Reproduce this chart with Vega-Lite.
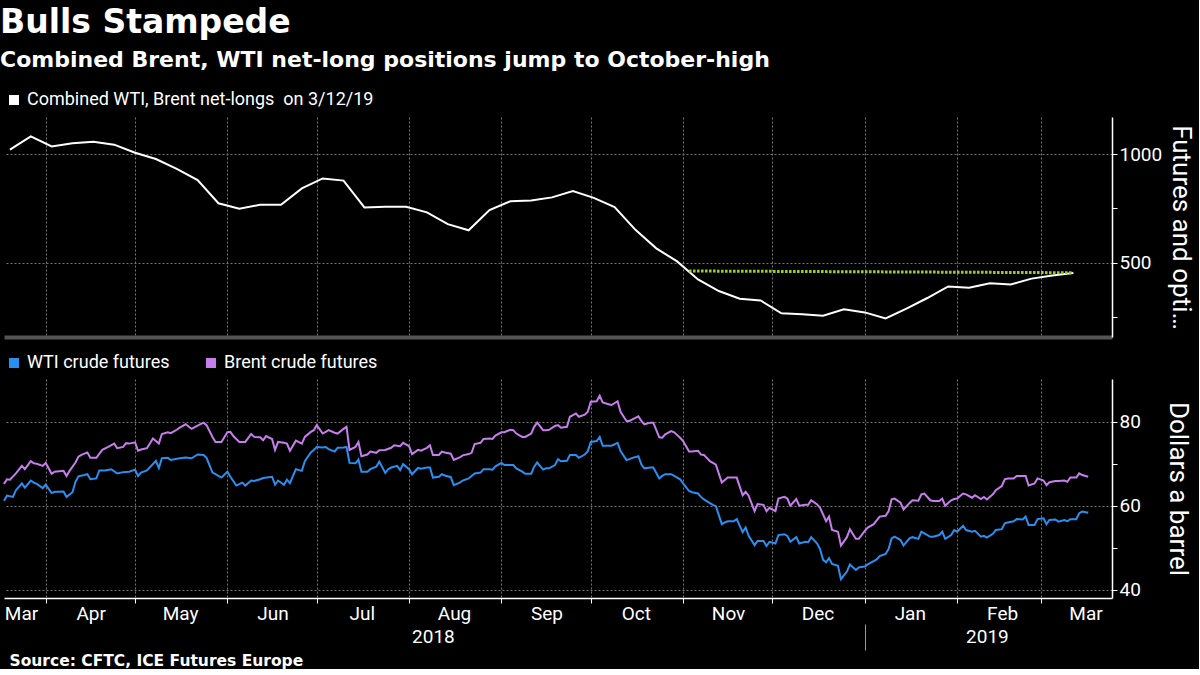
{
  "$schema": "https://vega.github.io/schema/vega-lite/v6.json",
  "background": "black",
  "padding": {"left": 0, "right": 5, "top": 7, "bottom": 0},
  "title": {
    "text": "Bulls Stampede",
    "subtitle": "Combined Brent, WTI net-long positions jump to October-high",
    "anchor": "start",
    "color": "white",
    "subtitleColor": "white",
    "font": "DejaVu Sans",
    "fontSize": 33,
    "fontWeight": "bold",
    "subtitleFont": "DejaVu Sans",
    "subtitleFontSize": 22,
    "subtitleFontWeight": "bold",
    "subtitlePadding": 10,
    "offset": 19
  },
  "datasets": {
    "pos": [
      {"date": "2018-03-20", "value": 1020}, {"date": "2018-03-27", "value": 1081}, {"date": "2018-04-03", "value": 1035},
      {"date": "2018-04-10", "value": 1049}, {"date": "2018-04-17", "value": 1056}, {"date": "2018-04-24", "value": 1043},
      {"date": "2018-05-01", "value": 1006}, {"date": "2018-05-08", "value": 977}, {"date": "2018-05-15", "value": 932},
      {"date": "2018-05-22", "value": 880}, {"date": "2018-05-29", "value": 774}, {"date": "2018-06-05", "value": 749},
      {"date": "2018-06-12", "value": 767}, {"date": "2018-06-19", "value": 767}, {"date": "2018-06-26", "value": 842},
      {"date": "2018-07-03", "value": 888}, {"date": "2018-07-10", "value": 878}, {"date": "2018-07-17", "value": 755},
      {"date": "2018-07-24", "value": 758}, {"date": "2018-07-31", "value": 758}, {"date": "2018-08-07", "value": 732},
      {"date": "2018-08-14", "value": 678}, {"date": "2018-08-21", "value": 650}, {"date": "2018-08-28", "value": 743},
      {"date": "2018-09-04", "value": 783}, {"date": "2018-09-11", "value": 787}, {"date": "2018-09-18", "value": 801},
      {"date": "2018-09-25", "value": 830}, {"date": "2018-10-02", "value": 799}, {"date": "2018-10-09", "value": 757},
      {"date": "2018-10-16", "value": 652}, {"date": "2018-10-23", "value": 567}, {"date": "2018-10-30", "value": 507},
      {"date": "2018-11-06", "value": 424}, {"date": "2018-11-13", "value": 371}, {"date": "2018-11-20", "value": 336},
      {"date": "2018-11-27", "value": 328}, {"date": "2018-12-04", "value": 269}, {"date": "2018-12-11", "value": 264},
      {"date": "2018-12-18", "value": 258}, {"date": "2018-12-25", "value": 287}, {"date": "2019-01-01", "value": 273},
      {"date": "2019-01-08", "value": 245}, {"date": "2019-01-15", "value": 290}, {"date": "2019-01-22", "value": 339},
      {"date": "2019-01-29", "value": 392}, {"date": "2019-02-05", "value": 386}, {"date": "2019-02-12", "value": 407},
      {"date": "2019-02-19", "value": 401}, {"date": "2019-02-26", "value": 428}, {"date": "2019-03-05", "value": 442},
      {"date": "2019-03-12", "value": 454}
    ],
    "ref": [
      {"date": "2018-11-03", "value": 463}, {"date": "2019-03-12", "value": 455}
    ],
    "brent": [
      {"date":"2018-03-18","price":65.2},{"date":"2018-03-19","price":66.3},{"date":"2018-03-20","price":66.2},{"date":"2018-03-22","price":67.7},
      {"date":"2018-03-24","price":69.5},{"date":"2018-03-25","price":68.7},{"date":"2018-03-27","price":70.6},{"date":"2018-03-28","price":70.1},
      {"date":"2018-03-29","price":70.0},{"date":"2018-03-31","price":69.5},{"date":"2018-04-01","price":70.2},{"date":"2018-04-03","price":67.6},
      {"date":"2018-04-04","price":68.1},{"date":"2018-04-07","price":68.3},{"date":"2018-04-08","price":67.1},{"date":"2018-04-09","price":68.3},
      {"date":"2018-04-11","price":70.3},{"date":"2018-04-12","price":71.7},{"date":"2018-04-13","price":72.1},{"date":"2018-04-15","price":72.7},
      {"date":"2018-04-16","price":71.4},{"date":"2018-04-18","price":71.4},{"date":"2018-04-20","price":73.3},{"date":"2018-04-22","price":74.0},
      {"date":"2018-04-24","price":74.8},{"date":"2018-04-25","price":73.7},{"date":"2018-04-27","price":74.0},{"date":"2018-04-28","price":74.9},
      {"date":"2018-04-29","price":74.8},{"date":"2018-05-01","price":75.1},{"date":"2018-05-02","price":73.1},{"date":"2018-05-03","price":73.4},
      {"date":"2018-05-05","price":73.7},{"date":"2018-05-07","price":76.0},{"date":"2018-05-09","price":74.8},{"date":"2018-05-10","price":77.1},
      {"date":"2018-05-12","price":77.5},{"date":"2018-05-13","price":77.3},{"date":"2018-05-15","price":78.1},{"date":"2018-05-16","price":78.6},
      {"date":"2018-05-18","price":79.4},{"date":"2018-05-20","price":78.3},{"date":"2018-05-22","price":79.1},{"date":"2018-05-24","price":79.8},
      {"date":"2018-05-25","price":79.2},{"date":"2018-05-27","price":76.4},{"date":"2018-05-28","price":75.2},{"date":"2018-05-30","price":75.2},
      {"date":"2018-06-01","price":77.5},{"date":"2018-06-02","price":77.6},{"date":"2018-06-03","price":76.6},{"date":"2018-06-05","price":75.2},
      {"date":"2018-06-06","price":75.2},{"date":"2018-06-07","price":75.2},{"date":"2018-06-09","price":77.1},{"date":"2018-06-10","price":76.4},
      {"date":"2018-06-12","price":76.3},{"date":"2018-06-13","price":75.6},{"date":"2018-06-14","price":76.6},{"date":"2018-06-16","price":75.9},
      {"date":"2018-06-17","price":73.3},{"date":"2018-06-18","price":75.2},{"date":"2018-06-20","price":75.0},{"date":"2018-06-21","price":74.8},
      {"date":"2018-06-22","price":73.1},{"date":"2018-06-24","price":75.5},{"date":"2018-06-26","price":74.8},{"date":"2018-06-27","price":76.4},
      {"date":"2018-06-29","price":77.6},{"date":"2018-06-30","price":78.0},{"date":"2018-07-01","price":79.2},{"date":"2018-07-03","price":77.2},
      {"date":"2018-07-04","price":77.6},{"date":"2018-07-05","price":78.0},{"date":"2018-07-07","price":77.4},{"date":"2018-07-08","price":77.2},
      {"date":"2018-07-10","price":78.3},{"date":"2018-07-11","price":78.8},{"date":"2018-07-12","price":73.3},{"date":"2018-07-14","price":74.0},
      {"date":"2018-07-15","price":75.2},{"date":"2018-07-16","price":71.8},{"date":"2018-07-18","price":72.2},{"date":"2018-07-19","price":72.9},
      {"date":"2018-07-21","price":72.6},{"date":"2018-07-22","price":73.2},{"date":"2018-07-24","price":73.3},{"date":"2018-07-26","price":73.8},
      {"date":"2018-07-27","price":74.4},{"date":"2018-07-29","price":74.2},{"date":"2018-07-30","price":75.0},{"date":"2018-08-01","price":74.2},
      {"date":"2018-08-02","price":72.3},{"date":"2018-08-04","price":73.3},{"date":"2018-08-05","price":73.1},{"date":"2018-08-07","price":73.8},
      {"date":"2018-08-08","price":74.4},{"date":"2018-08-09","price":72.1},{"date":"2018-08-11","price":72.1},{"date":"2018-08-12","price":72.9},
      {"date":"2018-08-13","price":72.7},{"date":"2018-08-15","price":72.4},{"date":"2018-08-16","price":70.9},{"date":"2018-08-18","price":71.5},
      {"date":"2018-08-19","price":72.0},{"date":"2018-08-21","price":72.3},{"date":"2018-08-22","price":72.6},{"date":"2018-08-23","price":74.7},
      {"date":"2018-08-25","price":75.0},{"date":"2018-08-26","price":75.9},{"date":"2018-08-28","price":76.0},{"date":"2018-08-29","price":75.9},
      {"date":"2018-08-30","price":76.7},{"date":"2018-09-01","price":77.5},{"date":"2018-09-02","price":77.5},{"date":"2018-09-04","price":78.1},
      {"date":"2018-09-05","price":78.0},{"date":"2018-09-06","price":77.2},{"date":"2018-09-08","price":76.4},{"date":"2018-09-09","price":76.4},
      {"date":"2018-09-11","price":77.2},{"date":"2018-09-12","price":78.8},{"date":"2018-09-13","price":79.8},{"date":"2018-09-15","price":78.0},
      {"date":"2018-09-16","price":78.0},{"date":"2018-09-17","price":78.1},{"date":"2018-09-19","price":79.0},{"date":"2018-09-20","price":79.2},
      {"date":"2018-09-21","price":78.6},{"date":"2018-09-23","price":78.8},{"date":"2018-09-24","price":81.2},{"date":"2018-09-26","price":82.0},
      {"date":"2018-09-27","price":81.2},{"date":"2018-09-29","price":81.7},{"date":"2018-09-30","price":82.4},{"date":"2018-10-01","price":84.8},
      {"date":"2018-10-03","price":84.9},{"date":"2018-10-04","price":86.2},{"date":"2018-10-05","price":84.6},{"date":"2018-10-07","price":84.2},
      {"date":"2018-10-08","price":84.0},{"date":"2018-10-10","price":84.9},{"date":"2018-10-11","price":82.4},{"date":"2018-10-13","price":80.2},
      {"date":"2018-10-14","price":80.2},{"date":"2018-10-15","price":80.6},{"date":"2018-10-17","price":81.3},{"date":"2018-10-18","price":80.2},
      {"date":"2018-10-19","price":79.4},{"date":"2018-10-21","price":79.8},{"date":"2018-10-22","price":79.8},{"date":"2018-10-24","price":76.3},
      {"date":"2018-10-25","price":76.2},{"date":"2018-10-26","price":77.0},{"date":"2018-10-28","price":77.8},{"date":"2018-10-29","price":77.5},
      {"date":"2018-10-31","price":76.2},{"date":"2018-11-01","price":75.4},{"date":"2018-11-03","price":72.9},{"date":"2018-11-04","price":72.9},
      {"date":"2018-11-06","price":73.1},{"date":"2018-11-07","price":72.2},{"date":"2018-11-08","price":72.1},{"date":"2018-11-10","price":70.6},
      {"date":"2018-11-11","price":70.2},{"date":"2018-11-12","price":69.8},{"date":"2018-11-14","price":65.5},{"date":"2018-11-15","price":66.1},
      {"date":"2018-11-16","price":66.7},{"date":"2018-11-18","price":66.7},{"date":"2018-11-19","price":66.7},{"date":"2018-11-21","price":62.5},
      {"date":"2018-11-22","price":63.3},{"date":"2018-11-23","price":62.4},{"date":"2018-11-25","price":58.7},{"date":"2018-11-26","price":60.4},
      {"date":"2018-11-28","price":60.2},{"date":"2018-11-29","price":58.7},{"date":"2018-11-30","price":59.5},{"date":"2018-12-02","price":58.7},
      {"date":"2018-12-03","price":61.7},{"date":"2018-12-05","price":62.1},{"date":"2018-12-06","price":61.7},{"date":"2018-12-07","price":60.0},
      {"date":"2018-12-09","price":61.6},{"date":"2018-12-10","price":60.0},{"date":"2018-12-12","price":60.2},{"date":"2018-12-13","price":60.2},
      {"date":"2018-12-14","price":61.3},{"date":"2018-12-16","price":60.3},{"date":"2018-12-17","price":59.5},{"date":"2018-12-19","price":56.3},
      {"date":"2018-12-20","price":57.4},{"date":"2018-12-21","price":54.2},{"date":"2018-12-23","price":53.8},{"date":"2018-12-24","price":50.5},
      {"date":"2018-12-26","price":52.5},{"date":"2018-12-27","price":54.4},{"date":"2018-12-29","price":52.1},{"date":"2018-12-30","price":52.1},
      {"date":"2019-01-01","price":54.0},{"date":"2019-01-02","price":54.8},{"date":"2019-01-04","price":55.6},{"date":"2019-01-05","price":56.5},
      {"date":"2019-01-06","price":57.4},{"date":"2019-01-08","price":57.6},{"date":"2019-01-09","price":58.7},{"date":"2019-01-10","price":61.5},
      {"date":"2019-01-11","price":61.7},{"date":"2019-01-13","price":60.7},{"date":"2019-01-14","price":59.1},{"date":"2019-01-16","price":60.6},
      {"date":"2019-01-17","price":61.3},{"date":"2019-01-19","price":61.2},{"date":"2019-01-20","price":62.7},{"date":"2019-01-21","price":62.9},
      {"date":"2019-01-23","price":61.3},{"date":"2019-01-24","price":61.1},{"date":"2019-01-26","price":61.1},{"date":"2019-01-27","price":61.7},
      {"date":"2019-01-28","price":60.0},{"date":"2019-01-30","price":61.3},{"date":"2019-01-31","price":61.6},{"date":"2019-02-01","price":61.7},
      {"date":"2019-02-03","price":62.9},{"date":"2019-02-04","price":62.7},{"date":"2019-02-06","price":61.9},{"date":"2019-02-07","price":62.5},
      {"date":"2019-02-09","price":61.6},{"date":"2019-02-10","price":62.1},{"date":"2019-02-11","price":61.5},{"date":"2019-02-13","price":62.7},
      {"date":"2019-02-14","price":63.7},{"date":"2019-02-16","price":64.7},{"date":"2019-02-17","price":66.3},{"date":"2019-02-18","price":66.5},
      {"date":"2019-02-20","price":66.5},{"date":"2019-02-21","price":67.1},{"date":"2019-02-23","price":67.1},{"date":"2019-02-24","price":67.1},
      {"date":"2019-02-25","price":64.8},{"date":"2019-02-27","price":65.3},{"date":"2019-02-28","price":66.5},{"date":"2019-03-02","price":66.0},
      {"date":"2019-03-03","price":64.9},{"date":"2019-03-04","price":65.6},{"date":"2019-03-06","price":65.9},{"date":"2019-03-07","price":65.9},
      {"date":"2019-03-09","price":66.0},{"date":"2019-03-10","price":65.7},{"date":"2019-03-11","price":66.7},{"date":"2019-03-13","price":66.7},
      {"date":"2019-03-14","price":67.7},{"date":"2019-03-15","price":67.3},{"date":"2019-03-17","price":66.9}
    ],
    "wti": [
      {"date":"2018-03-18","price":61.2},{"date":"2018-03-19","price":62.4},{"date":"2018-03-21","price":62.1},{"date":"2018-03-22","price":63.7},
      {"date":"2018-03-24","price":65.3},{"date":"2018-03-25","price":64.3},{"date":"2018-03-27","price":66.0},{"date":"2018-03-28","price":65.5},
      {"date":"2018-03-29","price":65.2},{"date":"2018-03-31","price":64.2},{"date":"2018-04-01","price":65.0},{"date":"2018-04-03","price":63.0},
      {"date":"2018-04-04","price":63.3},{"date":"2018-04-05","price":63.3},{"date":"2018-04-07","price":63.4},{"date":"2018-04-08","price":62.1},
      {"date":"2018-04-10","price":63.2},{"date":"2018-04-11","price":65.7},{"date":"2018-04-12","price":67.0},{"date":"2018-04-14","price":67.3},
      {"date":"2018-04-15","price":67.5},{"date":"2018-04-16","price":66.3},{"date":"2018-04-18","price":66.5},{"date":"2018-04-19","price":68.4},
      {"date":"2018-04-21","price":68.4},{"date":"2018-04-23","price":68.7},{"date":"2018-04-25","price":67.7},{"date":"2018-04-27","price":68.0},
      {"date":"2018-04-29","price":68.1},{"date":"2018-05-01","price":68.6},{"date":"2018-05-02","price":67.1},{"date":"2018-05-03","price":67.9},
      {"date":"2018-05-05","price":68.4},{"date":"2018-05-08","price":70.7},{"date":"2018-05-09","price":69.0},{"date":"2018-05-10","price":71.3},
      {"date":"2018-05-12","price":71.4},{"date":"2018-05-13","price":70.9},{"date":"2018-05-16","price":71.3},{"date":"2018-05-18","price":71.5},
      {"date":"2018-05-20","price":71.3},{"date":"2018-05-22","price":72.2},{"date":"2018-05-24","price":72.1},{"date":"2018-05-25","price":71.4},
      {"date":"2018-05-27","price":67.9},{"date":"2018-05-28","price":67.5},{"date":"2018-05-30","price":66.7},{"date":"2018-06-01","price":68.1},
      {"date":"2018-06-02","price":66.9},{"date":"2018-06-04","price":64.8},{"date":"2018-06-06","price":65.5},{"date":"2018-06-07","price":64.8},
      {"date":"2018-06-09","price":66.0},{"date":"2018-06-10","price":65.9},{"date":"2018-06-12","price":66.3},{"date":"2018-06-13","price":66.6},
      {"date":"2018-06-16","price":66.9},{"date":"2018-06-17","price":65.0},{"date":"2018-06-18","price":66.0},{"date":"2018-06-20","price":65.0},
      {"date":"2018-06-21","price":66.2},{"date":"2018-06-22","price":65.4},{"date":"2018-06-24","price":68.7},{"date":"2018-06-26","price":68.3},
      {"date":"2018-06-27","price":70.6},{"date":"2018-06-29","price":72.7},{"date":"2018-06-30","price":73.3},{"date":"2018-07-01","price":74.0},
      {"date":"2018-07-03","price":73.9},{"date":"2018-07-04","price":74.0},{"date":"2018-07-05","price":73.5},{"date":"2018-07-07","price":72.9},
      {"date":"2018-07-08","price":73.8},{"date":"2018-07-10","price":73.9},{"date":"2018-07-11","price":74.0},{"date":"2018-07-12","price":70.2},
      {"date":"2018-07-14","price":70.1},{"date":"2018-07-15","price":71.0},{"date":"2018-07-16","price":68.1},{"date":"2018-07-18","price":68.1},
      {"date":"2018-07-19","price":68.7},{"date":"2018-07-21","price":69.3},{"date":"2018-07-22","price":70.5},{"date":"2018-07-24","price":67.8},
      {"date":"2018-07-25","price":68.7},{"date":"2018-07-26","price":69.1},{"date":"2018-07-28","price":69.5},{"date":"2018-07-29","price":68.5},
      {"date":"2018-07-30","price":69.9},{"date":"2018-08-01","price":68.7},{"date":"2018-08-02","price":67.5},{"date":"2018-08-04","price":69.0},
      {"date":"2018-08-05","price":68.8},{"date":"2018-08-07","price":69.1},{"date":"2018-08-08","price":69.1},{"date":"2018-08-09","price":66.7},
      {"date":"2018-08-11","price":66.9},{"date":"2018-08-12","price":67.5},{"date":"2018-08-13","price":67.2},{"date":"2018-08-15","price":66.8},
      {"date":"2018-08-16","price":64.9},{"date":"2018-08-18","price":65.5},{"date":"2018-08-19","price":66.0},{"date":"2018-08-21","price":66.5},
      {"date":"2018-08-22","price":67.1},{"date":"2018-08-23","price":67.7},{"date":"2018-08-25","price":67.9},{"date":"2018-08-26","price":68.7},
      {"date":"2018-08-28","price":68.7},{"date":"2018-08-29","price":68.6},{"date":"2018-08-30","price":69.4},{"date":"2018-09-01","price":70.2},
      {"date":"2018-09-02","price":69.7},{"date":"2018-09-04","price":69.7},{"date":"2018-09-05","price":69.7},{"date":"2018-09-06","price":68.9},
      {"date":"2018-09-08","price":68.1},{"date":"2018-09-09","price":67.6},{"date":"2018-09-11","price":67.6},{"date":"2018-09-12","price":69.3},
      {"date":"2018-09-13","price":70.3},{"date":"2018-09-15","price":68.6},{"date":"2018-09-16","price":68.9},{"date":"2018-09-17","price":68.9},
      {"date":"2018-09-19","price":69.7},{"date":"2018-09-20","price":71.1},{"date":"2018-09-21","price":70.6},{"date":"2018-09-23","price":70.7},
      {"date":"2018-09-24","price":72.1},{"date":"2018-09-26","price":72.1},{"date":"2018-09-27","price":71.4},{"date":"2018-09-29","price":72.2},
      {"date":"2018-09-30","price":73.0},{"date":"2018-10-01","price":75.2},{"date":"2018-10-03","price":75.4},{"date":"2018-10-04","price":76.4},
      {"date":"2018-10-05","price":74.3},{"date":"2018-10-07","price":74.3},{"date":"2018-10-08","price":74.3},{"date":"2018-10-10","price":75.0},
      {"date":"2018-10-11","price":73.0},{"date":"2018-10-13","price":70.9},{"date":"2018-10-14","price":71.1},{"date":"2018-10-15","price":71.4},
      {"date":"2018-10-17","price":71.8},{"date":"2018-10-18","price":69.8},{"date":"2018-10-19","price":68.9},{"date":"2018-10-21","price":69.1},
      {"date":"2018-10-22","price":69.1},{"date":"2018-10-24","price":66.5},{"date":"2018-10-25","price":67.1},{"date":"2018-10-26","price":67.5},
      {"date":"2018-10-28","price":67.5},{"date":"2018-10-29","price":67.1},{"date":"2018-10-31","price":66.3},{"date":"2018-11-01","price":65.3},
      {"date":"2018-11-03","price":63.5},{"date":"2018-11-04","price":63.2},{"date":"2018-11-06","price":62.9},{"date":"2018-11-07","price":62.1},
      {"date":"2018-11-08","price":61.5},{"date":"2018-11-10","price":60.6},{"date":"2018-11-11","price":60.2},{"date":"2018-11-12","price":59.9},
      {"date":"2018-11-14","price":55.6},{"date":"2018-11-15","price":56.0},{"date":"2018-11-16","price":56.3},{"date":"2018-11-18","price":56.3},
      {"date":"2018-11-19","price":56.8},{"date":"2018-11-21","price":53.7},{"date":"2018-11-22","price":54.8},{"date":"2018-11-23","price":52.8},
      {"date":"2018-11-25","price":50.6},{"date":"2018-11-26","price":51.6},{"date":"2018-11-28","price":51.6},{"date":"2018-11-29","price":50.4},
      {"date":"2018-11-30","price":51.4},{"date":"2018-12-02","price":51.0},{"date":"2018-12-03","price":53.0},{"date":"2018-12-05","price":53.2},
      {"date":"2018-12-06","price":52.8},{"date":"2018-12-07","price":51.4},{"date":"2018-12-09","price":52.5},{"date":"2018-12-10","price":51.0},
      {"date":"2018-12-12","price":51.4},{"date":"2018-12-13","price":51.3},{"date":"2018-12-14","price":52.5},{"date":"2018-12-16","price":51.0},
      {"date":"2018-12-17","price":49.6},{"date":"2018-12-18","price":47.1},{"date":"2018-12-19","price":46.5},{"date":"2018-12-20","price":47.5},
      {"date":"2018-12-21","price":46.1},{"date":"2018-12-23","price":45.7},{"date":"2018-12-24","price":42.5},{"date":"2018-12-26","price":44.3},
      {"date":"2018-12-27","price":46.0},{"date":"2018-12-29","price":44.7},{"date":"2018-12-30","price":45.3},{"date":"2019-01-01","price":45.5},
      {"date":"2019-01-02","price":46.0},{"date":"2019-01-04","price":46.8},{"date":"2019-01-05","price":47.2},{"date":"2019-01-06","price":48.0},
      {"date":"2019-01-08","price":48.5},{"date":"2019-01-09","price":49.7},{"date":"2019-01-10","price":52.2},{"date":"2019-01-11","price":52.6},
      {"date":"2019-01-13","price":51.8},{"date":"2019-01-14","price":50.5},{"date":"2019-01-16","price":52.2},{"date":"2019-01-17","price":52.5},
      {"date":"2019-01-19","price":52.1},{"date":"2019-01-20","price":53.8},{"date":"2019-01-21","price":53.4},{"date":"2019-01-23","price":52.6},
      {"date":"2019-01-24","price":52.6},{"date":"2019-01-26","price":53.0},{"date":"2019-01-27","price":53.8},{"date":"2019-01-28","price":52.1},
      {"date":"2019-01-30","price":53.0},{"date":"2019-01-31","price":54.2},{"date":"2019-02-01","price":53.8},{"date":"2019-02-03","price":55.2},
      {"date":"2019-02-04","price":54.2},{"date":"2019-02-06","price":53.8},{"date":"2019-02-07","price":54.0},{"date":"2019-02-09","price":52.6},
      {"date":"2019-02-10","price":52.8},{"date":"2019-02-11","price":52.4},{"date":"2019-02-13","price":53.3},{"date":"2019-02-14","price":54.2},
      {"date":"2019-02-16","price":54.4},{"date":"2019-02-17","price":55.8},{"date":"2019-02-18","price":56.0},{"date":"2019-02-20","price":56.3},
      {"date":"2019-02-21","price":56.8},{"date":"2019-02-23","price":56.7},{"date":"2019-02-24","price":57.4},{"date":"2019-02-25","price":55.4},
      {"date":"2019-02-27","price":55.4},{"date":"2019-02-28","price":56.8},{"date":"2019-03-02","price":57.0},{"date":"2019-03-03","price":55.6},
      {"date":"2019-03-04","price":56.6},{"date":"2019-03-06","price":56.7},{"date":"2019-03-07","price":56.2},{"date":"2019-03-09","price":56.6},
      {"date":"2019-03-10","price":56.3},{"date":"2019-03-11","price":56.8},{"date":"2019-03-13","price":56.8},{"date":"2019-03-14","price":58.2},
      {"date":"2019-03-15","price":58.6},{"date":"2019-03-17","price":58.3}
    ]
  },
  "vconcat": [
    {
      "width": 1108,
      "height": 220,
      "encoding": {
        "x": {
          "field": "date", "type": "temporal",
          "scale": {"type": "utc", "domain": [{"year": 2018, "month": 3, "date": 18, "utc": true}, {"year": 2019, "month": 3, "date": 25, "utc": true}]},
          "axis": {
            "title": null, "labels": false, "ticks": false, "grid": true,
            "domainColor": "#555555", "domainWidth": 4,
            "values": [
              {"year": 2018, "month": 4, "date": 1, "utc": true}, {"year": 2018, "month": 5, "date": 1, "utc": true},
              {"year": 2018, "month": 6, "date": 1, "utc": true}, {"year": 2018, "month": 7, "date": 1, "utc": true},
              {"year": 2018, "month": 8, "date": 1, "utc": true}, {"year": 2018, "month": 9, "date": 1, "utc": true},
              {"year": 2018, "month": 10, "date": 1, "utc": true}, {"year": 2018, "month": 11, "date": 1, "utc": true},
              {"year": 2018, "month": 12, "date": 1, "utc": true}, {"year": 2019, "month": 1, "date": 1, "utc": true},
              {"year": 2019, "month": 2, "date": 1, "utc": true}, {"year": 2019, "month": 3, "date": 1, "utc": true}
            ]
          }
        },
        "y": {
          "field": "value", "type": "quantitative",
          "scale": {"domain": [160, 1170], "nice": false, "zero": false},
          "axis": {
            "orient": "right", "values": [250, 500, 750, 1000], "format": "d",
            "labelExpr": "datum.value % 500 == 0 ? datum.label : ''",
            "gridOpacity": {"condition": {"test": "datum.value % 500 == 0", "value": 1}, "value": 0},
            "title": "Futures and options", "titleLimit": 218, "titlePadding": 6
          }
        }
      },
      "layer": [
        {
          "data": {"name": "pos"},
          "mark": {"type": "line", "strokeWidth": 2},
          "encoding": {
            "color": {
              "datum": "Combined WTI, Brent net-longs\u00a0 on 3/12/19",
              "scale": {"domain": ["Combined WTI, Brent net-longs\u00a0 on 3/12/19"], "range": ["#ffffff"]},
              "legend": {"orient": "none", "legendX": 0, "legendY": -27, "direction": "horizontal", "title": null, "labelLimit": 500}
            }
          }
        },
        {
          "data": {"name": "ref"},
          "mark": {"type": "line", "color": "#9fd12d", "strokeWidth": 3, "strokeDash": [2.5, 1.5]},
          "encoding": {}
        }
      ]
    },
    {
      "width": 1108,
      "height": 219,
      "encoding": {
        "y": {
          "field": "price", "type": "quantitative",
          "scale": {"domain": [38, 90.2], "nice": false, "zero": false},
          "axis": {
            "orient": "right", "values": [40, 50, 60, 70, 80],
            "labelExpr": "datum.value % 20 == 0 ? datum.label : ''",
            "gridOpacity": {"condition": {"test": "datum.value % 20 == 0", "value": 1}, "value": 0},
            "title": "Dollars a barrel", "titlePadding": 24
          }
        }
      },
      "layer": [
        {
          "data": {"name": "brent"},
          "mark": {"type": "line", "strokeWidth": 2},
          "encoding": {
            "x": {
              "field": "date", "type": "temporal",
              "scale": {"type": "utc", "domain": [{"year": 2018, "month": 3, "date": 18, "utc": true}, {"year": 2019, "month": 3, "date": 25, "utc": true}]},
              "axis": {
                "title": null, "grid": true, "tickSize": 5, "labelPadding": 1,
                "labelExpr": "utcFormat(datum.value, '%b')",
                "labelAlign": "center",
                "labelOffset": {"condition": {"test": "datum.value < utc(2018, 2, 25)", "value": 17}, "value": 45},
                "tickOpacity": {"condition": {"test": "datum.value < utc(2018, 2, 25)", "value": 0}, "value": 1},
                "gridOpacity": {"condition": {"test": "datum.value < utc(2018, 2, 25)", "value": 0}, "value": 1},
                "values": [
                  {"year": 2018, "month": 3, "date": 18, "utc": true},
                  {"year": 2018, "month": 4, "date": 1, "utc": true}, {"year": 2018, "month": 5, "date": 1, "utc": true},
                  {"year": 2018, "month": 6, "date": 1, "utc": true}, {"year": 2018, "month": 7, "date": 1, "utc": true},
                  {"year": 2018, "month": 8, "date": 1, "utc": true}, {"year": 2018, "month": 9, "date": 1, "utc": true},
                  {"year": 2018, "month": 10, "date": 1, "utc": true}, {"year": 2018, "month": 11, "date": 1, "utc": true},
                  {"year": 2018, "month": 12, "date": 1, "utc": true}, {"year": 2019, "month": 1, "date": 1, "utc": true},
                  {"year": 2019, "month": 2, "date": 1, "utc": true}, {"year": 2019, "month": 3, "date": 1, "utc": true}
                ]
              }
            },
            "color": {
              "datum": "Brent crude futures",
              "scale": {"domain": ["WTI crude futures", "Brent crude futures"], "range": ["#2a8ff0", "#c77dee"]},
              "legend": {"orient": "none", "legendX": 0, "legendY": -26, "direction": "horizontal", "title": null}
            }
          }
        },
        {
          "data": {"name": "wti"},
          "mark": {"type": "line", "strokeWidth": 2},
          "encoding": {
            "x": {
              "field": "date", "type": "temporal",
              "scale": {"type": "utc", "domain": [{"year": 2018, "month": 3, "date": 18, "utc": true}, {"year": 2019, "month": 3, "date": 25, "utc": true}]},
              "axis": {
                "orient": "bottom", "offset": 26, "domain": false, "grid": false,
                "tickSize": 26, "tickColor": "#999999",
                "tickOpacity": {"condition": {"test": "datum.value == utc(2019, 0, 1)", "value": 1}, "value": 0},
                "labelPadding": -23,
                "labelExpr": "datum.value == utc(2019, 0, 1) ? '' : utcFormat(datum.value, '%Y')",
                "values": [
                  {"year": 2018, "month": 8, "date": 9, "utc": true},
                  {"year": 2019, "month": 1, "date": 1, "utc": true},
                  {"year": 2019, "month": 2, "date": 11, "utc": true}
                ],
                "title": "Source: CFTC, ICE Futures Europe",
                "titleFont": "DejaVu Sans", "titleFontWeight": "bold", "titleFontSize": 15.5,
                "titleAnchor": "start", "titleAlign": "left", "titleBaseline": "top",
                "titleX": 5, "titleY": 29, "titleAngle": 0
              }
            },
            "color": {"datum": "WTI crude futures"}
          }
        }
      ],
      "resolve": {"axis": {"x": "independent"}}
    }
  ],
  "spacing": 16,
  "resolve": {"scale": {"color": "independent", "x": "independent"}, "legend": {"color": "independent"}},
  "config": {
    "background": "black",
    "view": {"stroke": null},
    "font": "Roboto",
    "axis": {
      "labelColor": "#ffffff", "titleColor": "#ffffff", "domainColor": "#ffffff", "tickColor": "#ffffff",
      "gridColor": "#777777", "gridDash": [2, 2], "gridWidth": 1,
      "labelFont": "Roboto", "labelFontSize": 19, "titleFont": "Roboto", "titleFontWeight": "normal", "titleFontSize": 26,
      "domainWidth": 1.5, "tickSize": 5
    },
    "legend": {
      "labelColor": "#ffffff", "labelFont": "Roboto", "labelFontSize": 18,
      "symbolType": "stroke", "symbolSize": 100, "symbolStrokeWidth": 10,
      "columnPadding": 16, "labelOffset": 3, "padding": 0
    }
  }
}
